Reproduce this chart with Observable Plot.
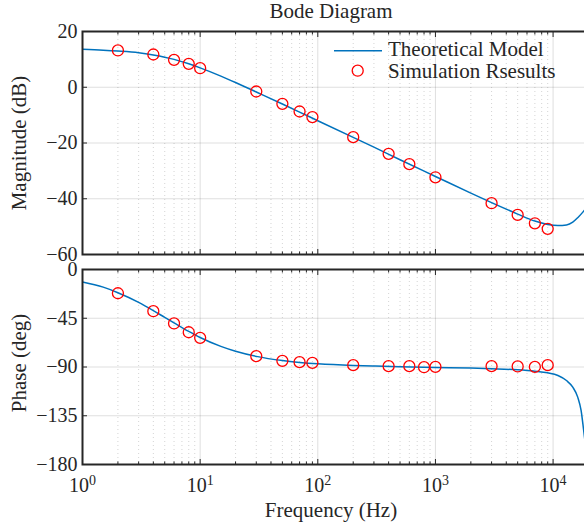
<!DOCTYPE html>
<html><head><meta charset="utf-8">
<script src="https://cdn.jsdelivr.net/npm/d3@7"></script>
<script src="https://cdn.jsdelivr.net/npm/@observablehq/plot@0.6"></script>
<style>
html,body{margin:0;padding:0;background:#fff;overflow:hidden;}
#wrap{position:relative;width:584px;height:527px;overflow:hidden;font-family:"Liberation Serif","Times New Roman",serif;color:#262626;background:#fff;}
.abs{position:absolute;white-space:nowrap;line-height:21px;font-size:21px;}
.panel{position:absolute;left:0;}
</style></head><body><div id="wrap"></div>
<script>
// ---- data ----
const freqModelMag = [1,1.5,2,3,4,5,6,8,10,15,20,30,50,70,100,200,300,500,1000,2000,3000,5000,7000,9000,11000,13000,14700,16200,17900,20000];
const magModel     = [13.6,13.3,13.0,12.4,11.6,10.8,10.0,8.4,6.95,4.0,1.7,-1.7,-6.0,-8.9,-12.0,-18.0,-21.5,-26.0,-32.0,-38.0,-41.4,-45.5,-48.0,-49.2,-49.6,-49.4,-48.4,-46.8,-44.8,-42.0];
const freqModelPhase = [1,1.5,2,3,4,5,6,8,10,15,20,30,50,70,100,200,300,500,1000,2000,3000,5000,7000,9000,11000,13000,14700,16200,17300,18200,19000,20000];
const phaseModel     = [-11.6,-16.3,-21.4,-30.3,-37.9,-44.2,-49.3,-57.2,-62.8,-71.0,-75.5,-80.2,-84.1,-85.8,-87.1,-88.6,-89.1,-89.7,-90.4,-91.0,-91.6,-92.6,-93.9,-95.4,-97.8,-102.5,-108.6,-117.8,-130.0,-148.6,-165.0,-178.0];
const freqSimMag = [2,4,6,8,10,30,50,70,90,200,400,600,1000,3000,5000,7000,9000];
const magSim     = [13.2,11.75,9.84,8.4,6.83,-1.52,-5.94,-8.7,-10.7,-17.9,-23.9,-27.6,-32.3,-41.6,-45.8,-48.8,-50.8];
const freqSimPhase = [2,4,6,8,10,30,50,70,90,200,400,600,800,1000,3000,5000,7000,9000];
const phaseSim     = [-21.9,-38.5,-49.8,-57.9,-63.1,-80.0,-84.3,-85.5,-86.2,-88.3,-89.2,-89.2,-90.2,-89.9,-89.2,-89.5,-89.9,-88.3];
const xMajor = [1,10,100,1000,10000];
const xExp   = ["0","1","2","3","4"];
const magTicks = [20,0,-20,-40,-60];
const phaseTicks = [0,-45,-90,-135,-180];
const legendLabels = ["Theoretical Model","Simulation Rsesults"];

// ---- helpers ----
const xMinor = [];
for (const dec of [1,10,100,1000]) for (let k=2;k<=9;k++) xMinor.push(k*dec);
const W = 590, ML = 82, MR = 2;
const LINE = "#0072BD", RED = "#ff0000", INK = "#262626";
const fmt = d => d < 0 ? "\u2212" + (-d) : String(d);
const svgStyle = "max-width:none;overflow:visible;background:transparent;font:20px 'Liberation Serif',serif;color:#262626;";

function frameMarks(yTicks, withXLabels) {
  return [
    Plot.frame({stroke: INK, strokeWidth: 2}),
    Plot.axisY({ticks: yTicks, anchor: "left", tickSize: -5, tickPadding: 10, tickFormat: fmt, label: null, strokeWidth: 1}),
    Plot.axisY({ticks: yTicks, anchor: "right", tickSize: -5, tickFormat: () => "", label: null}),
    Plot.axisX({ticks: xMajor, anchor: "bottom", tickSize: -5, tickPadding: 18,
      tickFormat: withXLabels ? (d => "10|" + xExp[xMajor.indexOf(d)]) : (() => ""), label: null}),
    Plot.axisX({ticks: xMajor, anchor: "top", tickSize: -5, tickFormat: () => "", label: null}),
    Plot.axisX({ticks: xMinor, anchor: "bottom", tickSize: -2.5, tickFormat: () => "", label: null}),
    Plot.axisX({ticks: xMinor, anchor: "top", tickSize: -2.5, tickFormat: () => "", label: null})
  ];
}
function gridMarks(yTicks) {
  return [
    Plot.gridX({ticks: xMinor, stroke: INK, strokeOpacity: 0.2, strokeDasharray: "1,3"}),
    Plot.gridX({ticks: xMajor, stroke: INK, strokeOpacity: 0.15}),
    Plot.gridY({ticks: yTicks, stroke: INK, strokeOpacity: 0.15})
  ];
}

const magLine = freqModelMag.map((f,i) => ({f, v: magModel[i]}));
const magDots = freqSimMag.map((f,i) => ({f, v: magSim[i]}));
const phLine = freqModelPhase.map((f,i) => ({f, v: phaseModel[i]}));
const phDots = freqSimPhase.map((f,i) => ({f, v: phaseSim[i]}));

const p1 = Plot.plot({
  width: W, height: 262, marginLeft: ML, marginRight: MR, marginTop: 31, marginBottom: 8,
  style: svgStyle,
  x: {type: "log", domain: [1, 20000]},
  y: {domain: [-60, 20]},
  marks: [
    ...gridMarks(magTicks),
    Plot.line(magLine, {x: "f", y: "v", stroke: LINE, strokeWidth: 1.5, curve: "monotone-x", clip: true}),
    Plot.dot(magDots, {x: "f", y: "v", r: 5.5, stroke: RED, strokeWidth: 1.3, fill: "none"}),
    ...frameMarks(magTicks, false)
  ]
});
const p2 = Plot.plot({
  width: W, height: 265, marginLeft: ML, marginRight: MR, marginTop: 7, marginBottom: 63,
  style: svgStyle,
  x: {type: "log", domain: [1, 20000]},
  y: {domain: [-180, 0]},
  marks: [
    ...gridMarks(phaseTicks),
    Plot.line(phLine, {x: "f", y: "v", stroke: LINE, strokeWidth: 1.5, curve: "monotone-x", clip: true}),
    Plot.dot(phDots, {x: "f", y: "v", r: 5.5, stroke: RED, strokeWidth: 1.3, fill: "none"}),
    ...frameMarks(phaseTicks, true)
  ]
});
// superscript exponents
d3.select(p2).selectAll('g[aria-label="x-axis tick label"] text').each(function() {
  const t = this.textContent;
  if (t.includes("|")) {
    const [b, e] = t.split("|");
    this.textContent = b;
    d3.select(this).append("tspan").attr("dy", "-0.45em").attr("font-size", "14px").text(e);
  }
});

const wrap = document.getElementById("wrap");
p1.classList.add("panel"); p1.style.top = "0px";
p2.classList.add("panel"); p2.style.top = "262px";
p1.style.position = "absolute"; p2.style.position = "absolute";
wrap.appendChild(p1); wrap.appendChild(p2);

function addText(txt, left, top, extra) {
  const d = document.createElement("div");
  d.className = "abs"; d.textContent = txt;
  d.style.left = left + "px"; d.style.top = top + "px";
  if (extra) Object.assign(d.style, extra);
  wrap.appendChild(d); return d;
}
addText("Bode Diagram", 331, 0.7, {transform: "translateX(-50%)"});
addText("Frequency (Hz)", 331, 499.7, {transform: "translateX(-50%)"});
addText("Magnitude (dB)", 26.7, 142.5, {transformOrigin: "0 0", transform: "rotate(-90deg) translate(-50%, -17.6px)"});
addText("Phase (deg)", 26.7, 363, {transformOrigin: "0 0", transform: "rotate(-90deg) translate(-50%, -17.6px)"});
// legend
const ns = "http://www.w3.org/2000/svg";
const lg = document.createElementNS(ns, "svg");
lg.setAttribute("width", "60"); lg.setAttribute("height", "40");
lg.style.position = "absolute"; lg.style.left = "330px"; lg.style.top = "40px";
lg.innerHTML = `<line x1="4" x2="52" y1="10.7" y2="10.7" stroke="${LINE}" stroke-width="1.5"/>
<circle cx="27.7" cy="30.7" r="5.5" fill="none" stroke="${RED}" stroke-width="1.3"/>`;
wrap.appendChild(lg);
addText(legendLabels[0], 388, 39.1);
addText(legendLabels[1], 388, 61.1);
</script></body></html>
